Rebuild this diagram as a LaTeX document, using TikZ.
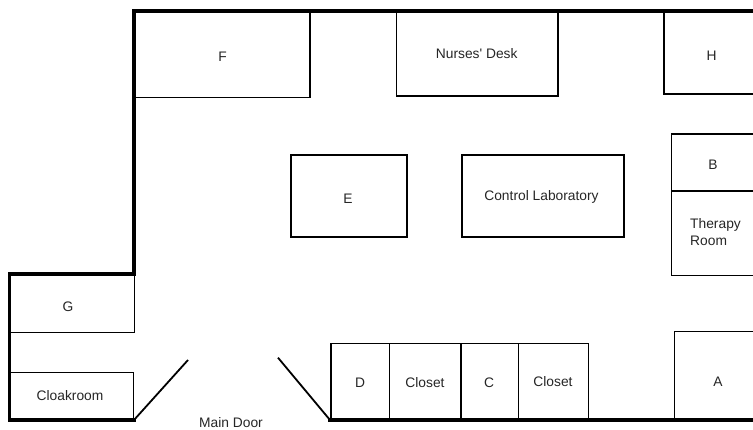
\documentclass[tikz,border=0pt]{standalone}
\usepackage{fontspec}
\setmainfont{Liberation Sans}
\begin{document}
\begin{tikzpicture}[x=1pt,y=-1pt,
  room/.style={draw=black, line width=1.3pt, anchor=north west, inner sep=0pt, outer sep=0pt},
  lbl/.style={font=\fontsize{13.8}{16.7}\selectfont, inner sep=0pt, text height=9.9pt, text depth=0pt, text=black!85},
  wall/.style={draw=black, line width=3.5pt, line join=miter, line cap=rect},
  doorline/.style={draw=black, line width=1.8pt}]
\useasboundingbox[fill=white] (0,0) rectangle (753,430);
% rooms
\node[room, minimum width=176pt, minimum height=86.5pt] (F) at (134,11) {};
\node[room, minimum width=161.3pt, minimum height=85pt] (ND) at (396.7,11) {};
\node[room, minimum width=96pt, minimum height=83pt] (H) at (664,11) {};
\node[room, minimum width=88.3pt, minimum height=57pt] (B) at (671.7,134) {};
\node[room, minimum width=88.3pt, minimum height=84.7pt] (TR) at (671.7,191) {};
\node[room, minimum width=116pt, minimum height=82pt] (E) at (291,155) {};
\node[room, minimum width=162pt, minimum height=82pt] (CL) at (462,155) {};
\node[room, minimum width=125.2pt, minimum height=58.7pt] (G) at (9.5,274) {};
\node[room, minimum width=123.8pt, minimum height=47.3pt] (CK) at (9.5,372.7) {};
\node[room, minimum width=58.3pt, minimum height=76.7pt] (D) at (331,343.3) {};
\node[room, minimum width=71.7pt, minimum height=76.7pt] (CS1) at (389.3,343.3) {};
\node[room, minimum width=57.3pt, minimum height=76.7pt] (C) at (461,343.3) {};
\node[room, minimum width=70pt, minimum height=76.7pt] (CS2) at (518.3,343.3) {};
\node[room, minimum width=85.7pt, minimum height=88.3pt] (A) at (674.3,331.7) {};
% walls
\coordinate (tw) at (760,11);
\coordinate (nw) at (134,11);
\coordinate (step) at (134,274);
\coordinate (stepl) at (9.5,274);
\coordinate (sw) at (9.5,420);
\coordinate (dl) at (134,420);
\coordinate (dr) at (330,420);
\coordinate (se) at (760,420);
\coordinate (dlt) at (188,360);
\coordinate (drt) at (278,357.7);
\draw[wall] (tw) -- (nw) -- (step) -- (stepl) -- (sw) -- (dl);
\draw[wall] (dr) -- (se);
\draw[doorline] (dl) -- (dlt);
\draw[doorline] (drt) -- (dr);
% labels
\node[lbl] (tF) at (222.7,56.7) {F};
\node[lbl] (tND) at (476.7,53.3) {Nurses\textquotesingle{} Desk};
\node[lbl] (tH) at (711.7,55.7) {H};
\node[lbl] (tB) at (713,165) {B};
\node[font=\fontsize{13.8}{16.7}\selectfont, inner sep=0pt, align=left, anchor=north west, text=black!85] (tTR) at (690,218.4) {Therapy\\Room};
\node[lbl] (tE) at (348,199) {E};
\node[lbl] (tCL) at (541.5,196) {Control Laboratory};
\node[lbl] (tG) at (68,307) {G};
\node[lbl] (tCK) at (70,396) {Cloakroom};
\node[lbl] (tD) at (360,383) {D};
\node[lbl] (tCS1) at (425,382.5) {Closet};
\node[lbl] (tC) at (489,382.5) {C};
\node[lbl] (tCS2) at (553,382) {Closet};
\node[lbl] (tA) at (718,381.7) {A};
\node[lbl, anchor=north] (tMD) at (231,417.3) {Main Door};
\end{tikzpicture}
\end{document}
